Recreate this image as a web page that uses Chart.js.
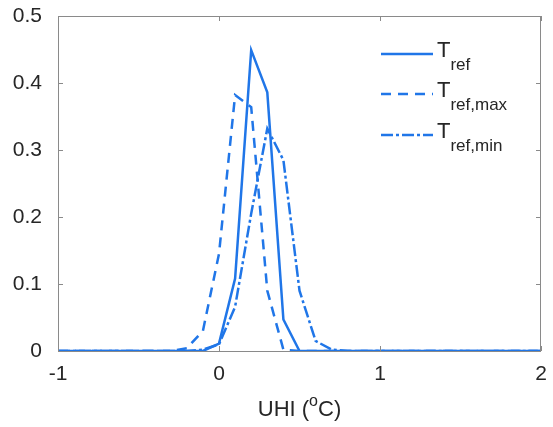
<!DOCTYPE html>
<html>
<head>
<meta charset="utf-8">
<script src="https://cdn.jsdelivr.net/npm/chart.js@4.4.1/dist/chart.umd.min.js"></script>
<style>
    html, body { margin: 0; padding: 0; background: #fff; }
</style>
</head>
<body>
<canvas id="myChart" width="553" height="427"></canvas>
<script>
// UHI bins (x) and the three probability curves
const uhi = [-1.0, -0.9, -0.8, -0.7, -0.6, -0.5, -0.4, -0.3, -0.2, -0.1,
    0.0, 0.1, 0.2, 0.3, 0.4, 0.5, 0.6, 0.7, 0.8, 0.9,
    1.0, 1.1, 1.2, 1.3, 1.4, 1.5, 1.6, 1.7, 1.8, 1.9, 2.0];

const tRef = [0, 0, 0, 0, 0, 0, 0, 0, 0, 0,
    0.011, 0.108, 0.449, 0.386, 0.047, 0, 0, 0, 0, 0,
    0, 0, 0, 0, 0, 0, 0, 0, 0, 0, 0];

const tRefMax = [0, 0, 0, 0, 0, 0, 0, 0, 0.004, 0.03,
    0.145, 0.382, 0.364, 0.09, 0.002, 0, 0, 0, 0, 0,
    0, 0, 0, 0, 0, 0, 0, 0, 0, 0, 0];

const tRefMin = [0, 0, 0, 0, 0, 0, 0, 0, 0, 0.002,
    0.01, 0.066, 0.205, 0.332, 0.285, 0.09, 0.015, 0.002, 0, 0,
    0, 0, 0, 0, 0, 0, 0, 0, 0, 0, 0];

const xTicks = [-1, 0, 1, 2];
const yTicks = [0, 0.1, 0.2, 0.3, 0.4, 0.5];
const legendSubs = ['ref', 'ref,max', 'ref,min'];

const blue = 'rgb(32,118,232)';
const font = '"Liberation Sans", Arial, Helvetica, sans-serif';
const dashes = [[], [10, 7], [12, 3, 3, 3]];

function toPoints(ys) {
    return ys.map((y, i) => ({ x: uhi[i], y: y }));
}

// box, inward ticks, legend with subscripts, x title with superscript
const matlabLook = {
    id: 'matlabLook',
    afterDraw(chart) {
        const c = chart.ctx;
        const a = chart.chartArea;
        const xs = chart.scales.x;
        const ys = chart.scales.y;
        c.save();

        c.strokeStyle = '#8a8a8a';
        c.lineWidth = 1;
        c.beginPath();
        c.rect(a.left + 0.5, a.top + 0.5, a.right - a.left - 1, a.bottom - a.top);
        yTicks.forEach((v) => {
            const p = Math.round(ys.getPixelForValue(v)) + 0.5;
            c.moveTo(a.left, p); c.lineTo(a.left + 5, p);
            c.moveTo(a.right - 5, p); c.lineTo(a.right, p);
        });
        xTicks.forEach((v) => {
            const p = Math.round(xs.getPixelForValue(v)) + 0.5;
            c.moveTo(p, a.bottom); c.lineTo(p, a.bottom - 5);
            c.moveTo(p, a.top); c.lineTo(p, a.top + 5);
        });
        c.stroke();

        // legend
        const lx0 = 381, lx1 = 433;
        const rows = [54, 94, 135];
        c.strokeStyle = blue;
        c.lineWidth = 2.5;
        c.fillStyle = '#262626';
        c.textBaseline = 'alphabetic';
        c.textAlign = 'left';
        rows.forEach((y, i) => {
            c.setLineDash(dashes[i]);
            c.beginPath();
            c.moveTo(lx0, y); c.lineTo(lx1, y);
            c.stroke();
            c.setLineDash([]);
            c.font = '22px ' + font;
            c.fillText('T', 437, y + 3);
            const w = c.measureText('T').width;
            c.font = '17px ' + font;
            c.fillText(legendSubs[i], 437 + w, y + 16);
        });

        // x axis title: UHI (oC)
        c.fillStyle = '#262626';
        const cx = (a.left + a.right) / 2;
        const base = 416;
        c.font = '22px ' + font;
        const p1 = 'UHI (';
        const p2 = 'C)';
        const w1 = c.measureText(p1).width;
        const w3 = c.measureText(p2).width;
        c.font = '16px ' + font;
        const w2 = c.measureText('o').width;
        let x = cx - (w1 + w2 + w3) / 2;
        c.font = '22px ' + font;
        c.fillText(p1, x, base);
        x += w1;
        c.font = '16px ' + font;
        c.fillText('o', x, base - 10);
        x += w2;
        c.font = '22px ' + font;
        c.fillText(p2, x, base);

        c.restore();
    }
};

const ctx = document.getElementById('myChart').getContext('2d');

const chart = new Chart(ctx, { //eslint-disable-line
    type: 'line',
    data: {
        datasets: [
            { label: 'T_ref', data: toPoints(tRef), borderDash: dashes[0] },
            { label: 'T_ref,max', data: toPoints(tRefMax), borderDash: dashes[1] },
            { label: 'T_ref,min', data: toPoints(tRefMin), borderDash: dashes[2] }
        ].map((d) => Object.assign(d, {
            borderColor: blue,
            backgroundColor: blue,
            borderWidth: 2.5,
            pointRadius: 0,
            tension: 0,
            fill: false
        }))
    },
    options: {
        responsive: false,
        animation: false,
        devicePixelRatio: 1,
        layout: { padding: { left: 0, right: 12, top: 16, bottom: 0 } },
        plugins: {
            legend: { display: false },
            tooltip: { enabled: false }
        },
        scales: {
            x: {
                type: 'linear',
                min: -1,
                max: 2,
                grid: { display: false },
                border: { display: false },
                ticks: {
                    stepSize: 1,
                    padding: 3,
                    color: '#262626',
                    font: { family: font, size: 21 },
                    maxRotation: 0
                },
                afterFit(scale) {
                    scale.height = 76;
                    scale.paddingLeft = 0;
                    scale.paddingRight = 0;
                }
            },
            y: {
                min: 0,
                max: 0.5,
                grid: { display: false },
                border: { display: false },
                ticks: {
                    stepSize: 0.1,
                    padding: 8,
                    color: '#262626',
                    font: { family: font, size: 21 },
                    callback: (v) => String(+v.toFixed(1))
                },
                afterFit(scale) {
                    scale.width = 58;
                    scale.paddingTop = 0;
                    scale.paddingBottom = 0;
                }
            }
        }
    },
    plugins: [matlabLook]
});
</script>
</body>
</html>
